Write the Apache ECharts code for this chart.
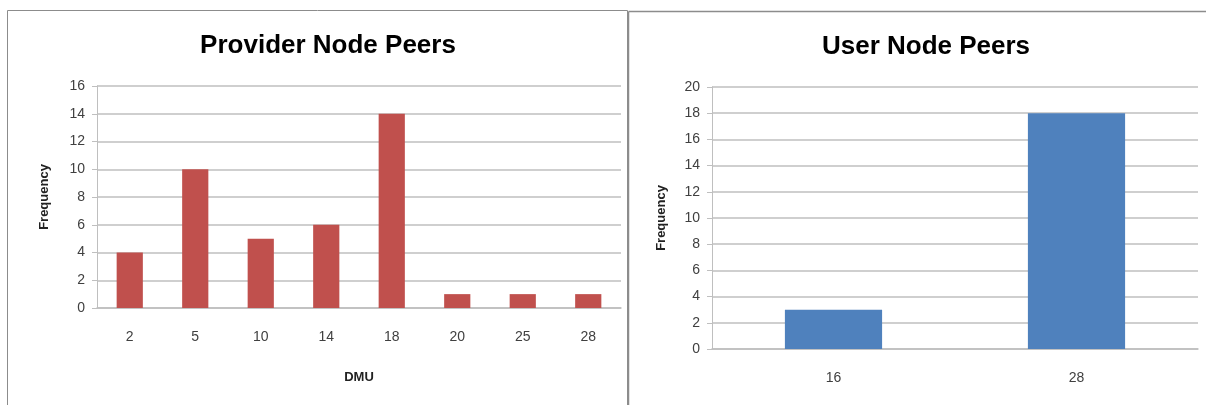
<!DOCTYPE html>
<html>
<head>
<meta charset="utf-8">
<script src="https://cdn.jsdelivr.net/npm/echarts@6/dist/echarts.min.js"></script>
<style>
html,body{margin:0;padding:0;background:#fff;}
#chart{width:1206px;height:405px;}
</style>
</head>
<body>
<div id="chart"></div>
<script>
// Data
var providerCategories = ['2', '5', '10', '14', '18', '20', '25', '28'];
var providerValues = [4, 10, 5, 6, 14, 1, 1, 1];
var userCategories = ['16', '28'];
var userValues = [3, 18];
var providerTicks = [0, 2, 4, 6, 8, 10, 12, 14, 16];
var userTicks = [0, 2, 4, 6, 8, 10, 12, 14, 16, 18, 20];

var FONT = '"Liberation Sans", Arial, sans-serif';
var gridColor = '#bfbfbf';
var labelColor = '#404040';

function yAxis(gridIndex, max, nameGap) {
  return {
    type: 'value', gridIndex: gridIndex, min: 0, max: max, interval: 2,
    name: 'Frequency', nameLocation: 'middle', nameRotate: 90, nameGap: nameGap,
    nameTextStyle: {fontFamily: FONT, fontWeight: 'bold', fontSize: 13, color: '#222'},
    axisLine: {show: true, lineStyle: {color: gridColor, width: 1}},
    axisTick: {show: true, length: 5, lineStyle: {color: gridColor}},
    axisLabel: {fontFamily: FONT, fontSize: 14, color: labelColor, margin: 12},
    splitLine: {show: true, lineStyle: {color: gridColor, width: 1.5}}
  };
}
function xAxis(gridIndex, cats, name, margin) {
  return {
    type: 'category', gridIndex: gridIndex, data: cats,
    name: name, nameLocation: 'middle', nameGap: 63,
    nameTextStyle: {fontFamily: FONT, fontWeight: 'bold', fontSize: 13, color: '#222'},
    axisLine: {show: true, lineStyle: {color: gridColor, width: 1.5}},
    axisTick: {show: false},
    axisLabel: {fontFamily: FONT, fontSize: 14, color: labelColor, margin: margin}
  };
}

var chart = echarts.init(document.getElementById('chart'), null, {renderer: 'canvas'});
chart.setOption({
  animation: false,
  backgroundColor: '#ffffff',
  title: [
    {text: 'Provider Node Peers', left: 323, top: 28, textAlign: 'center',
     textStyle: {fontFamily: FONT, fontSize: 26, fontWeight: 'bold', color: '#000'}},
    {text: 'User Node Peers', left: 921, top: 29, textAlign: 'center',
     textStyle: {fontFamily: FONT, fontSize: 26, fontWeight: 'bold', color: '#000'}}
  ],
  graphic: [
    {type: 'rect', shape: {x: 7.5, y: 10.5, width: 620, height: 420},
     style: {fill: null, stroke: '#8c8c8c', lineWidth: 1}, z: -1},
    {type: 'line', shape: {x1: 628.5, y1: 11.5, x2: 628.5, y2: 405},
     style: {stroke: '#8c8c8c', lineWidth: 1.5}},
    {type: 'line', shape: {x1: 628.5, y1: 11.5, x2: 1206, y2: 11.5},
     style: {stroke: '#8c8c8c', lineWidth: 1.5}}
  ],
  grid: [
    {left: 97, right: 585, top: 86, bottom: 97},
    {left: 712, right: 8, top: 87, bottom: 56}
  ],
  xAxis: [
    xAxis(0, providerCategories, 'DMU', 22),
    xAxis(1, userCategories, '', 22)
  ],
  yAxis: [
    yAxis(0, 16, 46),
    yAxis(1, 20, 44)
  ],
  series: [
    {type: 'bar', xAxisIndex: 0, yAxisIndex: 0, data: providerValues,
     barWidth: '40%', itemStyle: {color: '#C0504D'}},
    {type: 'bar', xAxisIndex: 1, yAxisIndex: 1, data: userValues,
     barWidth: '40%', itemStyle: {color: '#4F81BD'}}
  ]
});
</script>
</body>
</html>
